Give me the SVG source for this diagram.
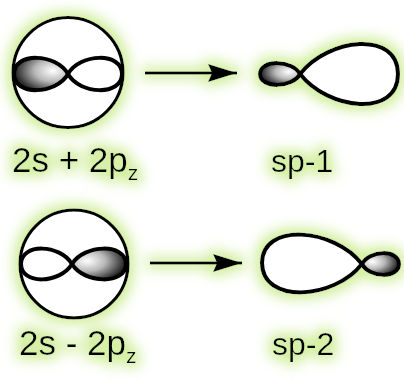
<svg xmlns="http://www.w3.org/2000/svg" width="404" height="379" viewBox="0 0 404 379">
  <defs>
    <!-- pale green halo drawn behind every element -->
    <filter id="glow" x="-40%" y="-60%" width="180%" height="220%">
      <feMorphology in="SourceAlpha" operator="dilate" radius="4" result="fat"/>
      <feGaussianBlur in="fat" stdDeviation="7" result="soft"/>
      <feComponentTransfer in="soft" result="strong">
        <feFuncA type="linear" slope="1.25"/>
      </feComponentTransfer>
      <feFlood flood-color="#d6f0a8"/>
      <feComposite in2="strong" operator="in" result="halo"/>
      <feMerge>
        <feMergeNode in="halo"/>
        <feMergeNode in="SourceGraphic"/>
      </feMerge>
    </filter>
    <!-- shaded (negative phase) lobe, lit from the node side -->
    <radialGradient id="shadeL" cx="0.72" cy="0.4" r="0.75">
      <stop offset="0" stop-color="#ffffff"/>
      <stop offset="0.45" stop-color="#b8b8b8"/>
      <stop offset="1" stop-color="#111111"/>
    </radialGradient>
    <radialGradient id="shadeR" cx="0.28" cy="0.4" r="0.75">
      <stop offset="0" stop-color="#ffffff"/>
      <stop offset="0.45" stop-color="#b8b8b8"/>
      <stop offset="1" stop-color="#111111"/>
    </radialGradient>
    <marker id="head" markerUnits="userSpaceOnUse" markerWidth="32" markerHeight="20" refX="29" refY="9" orient="auto">
      <path d="M0,0 L29,9 L0,18 L4,9 Z" fill="#000"/>
    </marker>
    <style>
      .edge { stroke: #000; stroke-width: 4; stroke-linejoin: round; }
      .ring { fill: #fff; stroke: #000; stroke-width: 3.2; }
      .arrow { fill: none; stroke: #000; stroke-width: 3; }
      .label { font-family: "Liberation Sans", Arial, Helvetica, sans-serif; font-size: 35px; fill: #000; }
      .name { font-size: 32px; }
      .sub { font-size: 21px; }
    </style>
  </defs>

  <!-- 2s + 2pz -->
  <g id="sum-orbitals" filter="url(#glow)">
    <circle class="ring" cx="68" cy="72.5" r="55"/>
    <path class="edge" style="fill:url(#shadeL)" d="M68,74 C56,53 14,52 14,74 C14,96 56,95 68,74 Z"/>
    <path class="edge" style="fill:#fff" d="M68,74 C80,53 122,52 122,74 C122,96 80,95 68,74 Z"/>
  </g>

  <!-- sp-1 hybrid -->
  <g id="sp1-orbital" filter="url(#glow)">
    <path class="edge" style="fill:url(#shadeL)" d="M300,74 C293,60 260,59 260,74 C260,89 293,88 300,74 Z"/>
    <path class="edge" style="fill:#fff" d="M300,74 C328,38 398,30 398,74 C398,118 328,110 300,74 Z"/>
  </g>

  <!-- 2s - 2pz -->
  <g id="diff-orbitals" filter="url(#glow)">
    <circle class="ring" cx="74" cy="264" r="54"/>
    <path class="edge" style="fill:#fff" d="M72,264 C60,244 21,243 21,264 C21,285 60,284 72,264 Z"/>
    <path class="edge" style="fill:url(#shadeR)" d="M72,264 C84,244 126,243 126,264 C126,285 84,284 72,264 Z"/>
  </g>

  <!-- sp-2 hybrid -->
  <g id="sp2-orbital" filter="url(#glow)">
    <path class="edge" style="fill:#fff" d="M362,264 C334,228 262,222 262,263 C262,304 334,300 362,264 Z"/>
    <path class="edge" style="fill:url(#shadeR)" d="M362,264 C369,250 399,249 399,264 C399,279 369,278 362,264 Z"/>
  </g>

  <!-- connectors -->
  <g id="connectors" filter="url(#glow)">
    <line class="arrow" x1="145" y1="73" x2="237" y2="73" marker-end="url(#head)"/>
    <line class="arrow" x1="150" y1="263" x2="242" y2="263" marker-end="url(#head)"/>
  </g>

  <!-- labels -->
  <g id="labels" filter="url(#glow)">
    <text class="label" x="12" y="172">2s + 2p<tspan class="sub" dy="8">z</tspan></text>
    <text class="label name" x="271" y="172">sp-1</text>
    <text class="label" x="19" y="355">2s - 2p<tspan class="sub" dy="8">z</tspan></text>
    <text class="label name" x="272" y="355">sp-2</text>
  </g>
</svg>
